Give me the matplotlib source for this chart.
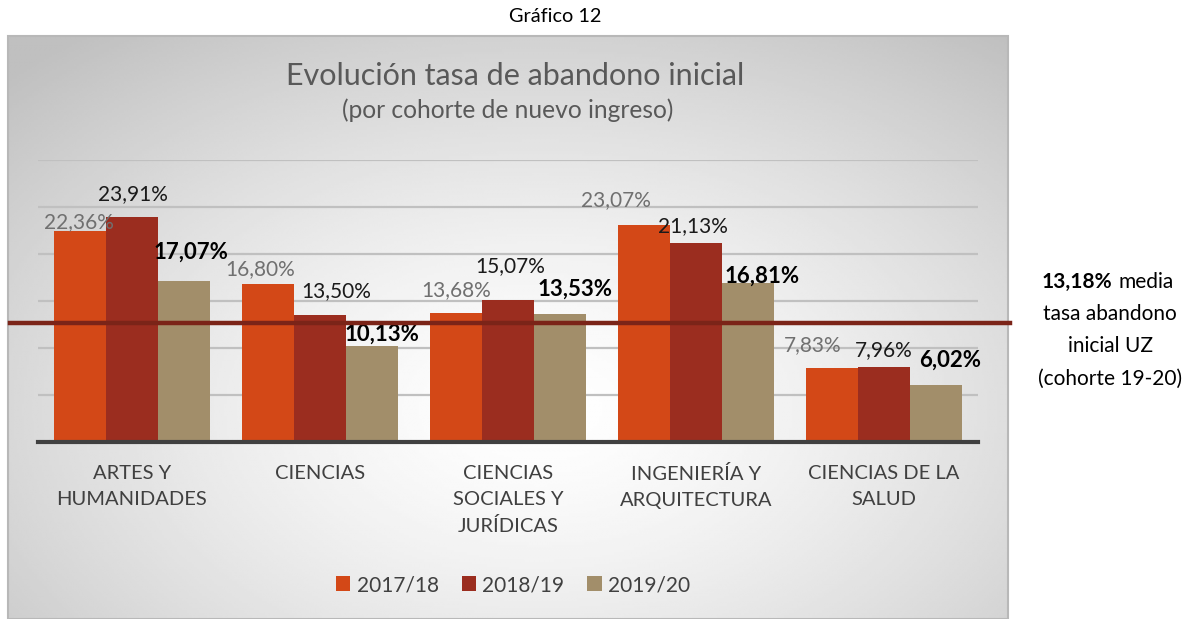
import numpy as np
import matplotlib.pyplot as plt
from matplotlib.patches import Rectangle

plt.rcParams['font.family'] = ['Lato', 'DejaVu Sans']

# data
categories = ['ARTES Y\nHUMANIDADES', 'CIENCIAS', 'CIENCIAS\nSOCIALES Y\nJURÍDICAS',
              'INGENIERÍA Y\nARQUITECTURA', 'CIENCIAS DE LA\nSALUD']
series = ['2017/18', '2018/19', '2019/20']
v1718 = [22.36, 16.80, 13.68, 23.07, 7.83]
v1819 = [23.91, 13.50, 15.07, 21.13, 7.96]
v1920 = [17.07, 10.13, 13.53, 16.81, 6.02]
mean_value = 13.18
mean_line_level = 12.6   # where the line is drawn in the original picture

colors = ['#D34817', '#9B2D1F', '#A28E6A']

# label nudges (pixels) relative to the top centre of each bar, as placed by hand
nudge1 = [(-1, 9), (-8, 14), (0, 23), (-28, 25), (-20, 23)]
nudge2 = [(1, 23), (16, 24), (2, 34), (-3, 17), (0, 17)]
nudge3 = [(7, 29), (10, 12), (15, 25), (14, 7), (14, 25)]

W, H = 1200, 619
fig = plt.figure(figsize=(W / 100, H / 100), dpi=100)

# chart box with radial gradient
bx0, bx1, by0, by1 = 8, 1008, 36, 619
bg = fig.add_axes([0, 0, 1, 1], zorder=0)
bg.set_xlim(0, W)
bg.set_ylim(H, 0)
bg.axis('off')
xx, yy = np.meshgrid(np.linspace(bx0, bx1, 400), np.linspace(by0, by1, 240))
t = np.sqrt(((xx - 540) / 520.0) ** 2 + ((yy - 410) / 330.0) ** 2)
shade = 1 - 0.25 * np.clip(t / 1.45, 0, 1) ** 1.4
bg.imshow(shade, cmap='gray', vmin=0, vmax=1, extent=[bx0, bx1, by1, by0],
          aspect='auto', interpolation='bilinear')
bg.add_patch(Rectangle((bx0, by0), bx1 - bx0, by1 - by0, fill=False,
                       edgecolor='#b8b8b8', lw=1.5))

# plot area
px0, px1, ptop, pbase = 38, 978, 159.5, 441.5
ax = fig.add_axes([px0 / W, (H - pbase) / H, (px1 - px0) / W, (pbase - ptop) / H], zorder=2)
ax.set_facecolor('none')
ax.set_xlim(-0.5, len(categories) - 0.5)
ax.set_ylim(0, 30)

x = np.arange(len(categories))
bw = 0.275
vals = [v1718, v1819, v1920]
for i, (v, c) in enumerate(zip(vals, colors)):
    ax.bar(x + (i - 1) * bw, v, bw, color=c, label=series[i], zorder=3)

ax.set_yticks(np.arange(5, 31, 5))
ax.yaxis.grid(True, color='#c0c0c0', lw=1.6, zorder=1)
ax.tick_params(axis='y', length=0, labelleft=False)
for s in ['top', 'right', 'left']:
    ax.spines[s].set_visible(False)
ax.spines['bottom'].set_color('#404040')
ax.spines['bottom'].set_linewidth(3)
ax.spines['bottom'].set_zorder(4)

ax.set_xticks(x)
ax.set_xticklabels(categories, fontsize=14.5, color='#404040', linespacing=1.62, va='top')
ax.tick_params(axis='x', length=0, pad=17)

# data labels
label_style = [dict(color='#707070', fontsize=15, fontweight='normal'),
               dict(color='#1a1a1a', fontsize=15, fontweight='normal'),
               dict(color='#000000', fontsize=16, fontweight='bold')]
for i, (v, nud) in enumerate(zip(vals, [nudge1, nudge2, nudge3])):
    for j, val in enumerate(v):
        ax.annotate(f'{val:.2f}%'.replace('.', ','), (x[j] + (i - 1) * bw, val),
                    xytext=nud[j], textcoords='offset pixels',
                    ha='center', va='center', zorder=5, **label_style[i])

# mean line
ax.axhline(mean_line_level, xmin=(10 - px0) / (px1 - px0), xmax=(1010 - px0) / (px1 - px0),
           color='#7B2418', lw=3.2, clip_on=False, zorder=6)

# legend
ax.legend(loc='center', bbox_to_anchor=(513 / W, (H - 585) / H), bbox_transform=fig.transFigure,
          ncol=3, frameon=False, fontsize=15, handlelength=0.7, handleheight=0.7,
          handletextpad=0.3, columnspacing=1.1, labelcolor='#404040')

# titles
fig.text(555 / W, 1 - 17 / H, 'Gráfico 12', ha='center', va='center', fontsize=14.3, color='#000000')
fig.text(515 / W, 1 - 76 / H, 'Evolución tasa de abandono inicial', ha='center', va='center',
         fontsize=22, color='#595959')
fig.text(508 / W, 1 - 110 / H, '(por cohorte de nuevo ingreso)', ha='center', va='center',
         fontsize=17.7, color='#595959')

# side note
mean_txt = f'{mean_value:.2f}%'.replace('.', ',')
fig.text(1112 / W, 1 - 282 / H, mean_txt, ha='right', va='center', fontsize=15,
         fontweight='bold', color='#000000')
fig.text(1118 / W, 1 - 282 / H, 'media', ha='left', va='center', fontsize=15, color='#000000')
note = ['tasa abandono', 'inicial UZ', '(cohorte 19-20)']
for k, line in enumerate(note):
    fig.text(1110 / W, 1 - (314 + 32.5 * k) / H, line, ha='center', va='center',
             fontsize=15, color='#000000')

fig.savefig('out.png', dpi=100)
